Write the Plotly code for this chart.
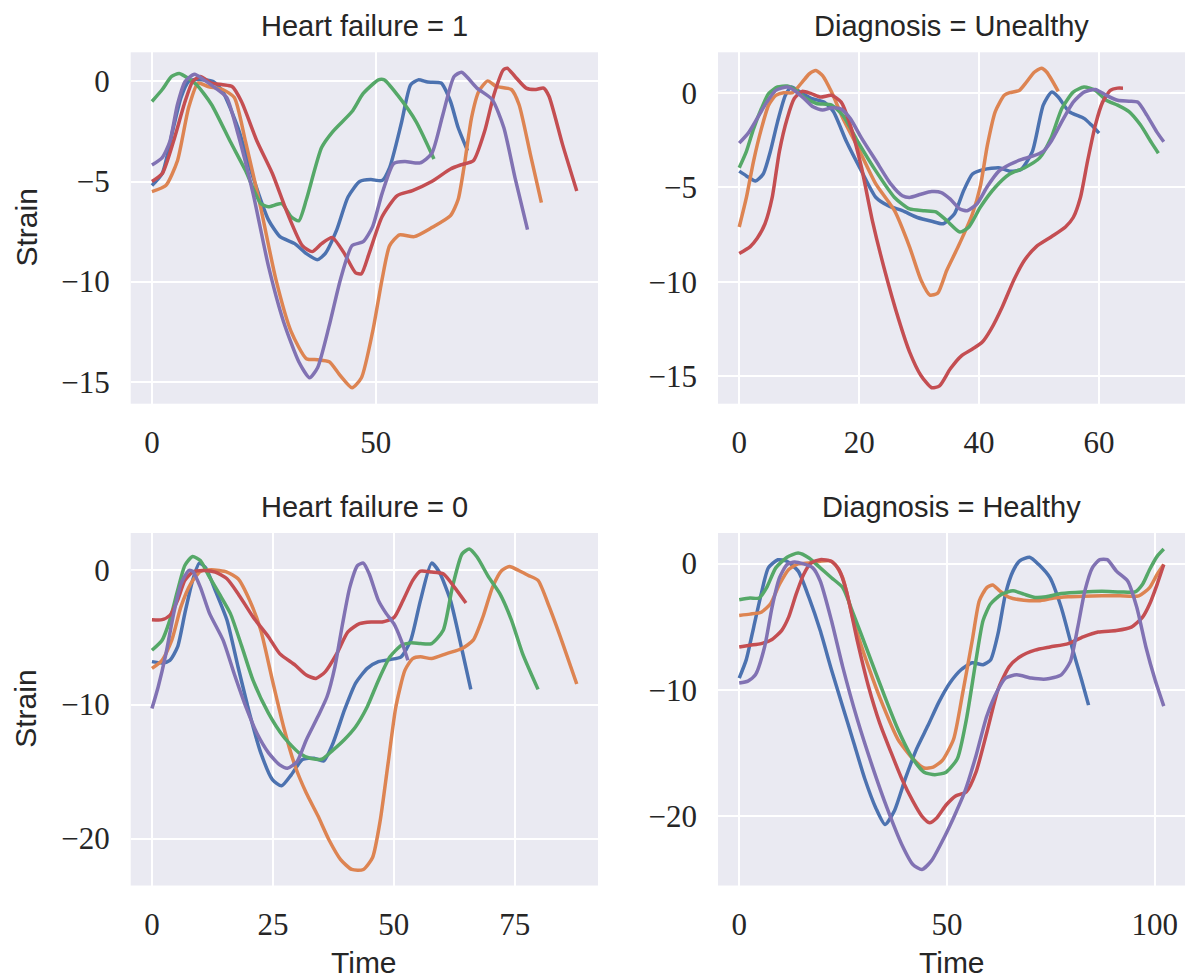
import plotly.graph_objects as go

# ---------------- data: Heart failure = 1 ----------------
hf1_t_blue = [0, 2.3, 4.8, 6.5, 8.2, 9.9, 13.7, 15.8, 19.2, 22.6, 26, 28.6, 31.9, 34.5, 37, 38.7, 41.3, 43.8, 46.4, 48.9, 51.4, 53.1, 55.7, 57.8, 59.5, 61.6, 64.6, 66.7, 68.4, 70.5]
hf1_s_blue = [-5.2, -4.6, -2.3, -0.8, 0, 0.1, 0, -0.5, -2.3, -4.8, -6.9, -7.75, -8.1, -8.6, -8.9, -8.6, -7.4, -5.77, -5.0, -4.9, -4.95, -4.3, -2.1, -0.16, 0.08, -0.03, -0.08, -1.0, -2.3, -3.46]
hf1_t_orange = [0, 3.1, 5.7, 8.2, 10.3, 12.5, 15.8, 18.4, 20.9, 24.3, 27.7, 31.1, 34.5, 37, 39.6, 42.1, 44.7, 46.8, 49.3, 51.4, 53.1, 55.3, 58.6, 62.5, 66.7, 68.4, 69.7, 71.4, 73, 75, 76.9, 80.3, 82, 84.5, 87]
hf1_s_orange = [-5.5, -5.2, -3.96, -1.3, -0.08, -0.25, -0.4, -0.8, -3.0, -6.3, -9.9, -12.5, -13.85, -13.9, -14.0, -14.7, -15.3, -14.8, -12.5, -9.9, -8.2, -7.66, -7.75, -7.3, -6.7, -5.9, -4.3, -1.8, -0.5, 0.03, -0.25, -0.4, -1.15, -3.6, -6.05]
hf1_t_green = [0, 2.3, 4.4, 6.1, 9.9, 13.3, 17.5, 20.9, 24.3, 26, 29, 31.1, 32.8, 34.5, 37.9, 40.4, 44.7, 47.2, 50.6, 51.9, 54.8, 59, 63]
hf1_s_green = [-1.0, -0.4, 0.25, 0.4, -0.15, -1.15, -3.0, -4.45, -6.1, -6.26, -6.1, -6.76, -6.96, -5.9, -3.3, -2.5, -1.5, -0.6, 0.08, 0.08, -0.66, -2.0, -3.87]
hf1_t_red = [0, 2.3, 4.8, 7.4, 9.1, 10.8, 13.3, 15.8, 17.9, 20, 23.5, 26.9, 30.3, 33.6, 35.8, 37.9, 40.3, 43, 45.5, 46.8, 48.5, 51.4, 54.8, 58.2, 62.5, 66.7, 69.2, 71.8, 74.3, 76.4, 78.5, 79.4, 81.1, 83.6, 85.8, 87.5, 88.7, 91.7, 94.9]
hf1_s_red = [-5.0, -4.6, -3.0, -1.0, 0, 0.25, -0.08, -0.16, -0.25, -1.0, -3.0, -4.6, -6.6, -8.2, -8.5, -8.1, -7.8, -8.6, -9.56, -9.6, -8.6, -6.76, -5.7, -5.45, -5.0, -4.37, -4.15, -3.96, -2.5, -0.66, 0.58, 0.66, 0.25, -0.33, -0.4, -0.33, -0.74, -3.13, -5.47]
hf1_t_purple = [0, 2.3, 4, 5.7, 7.4, 9.5, 11.6, 14.2, 16.7, 19.2, 22.6, 26, 29.4, 32.8, 35.2, 37, 39.6, 42.1, 44.7, 47.2, 49.3, 51.4, 54, 56.5, 59.9, 62.5, 65, 67.5, 69.2, 72.6, 76, 78.6, 81.1, 83.9]
hf1_s_purple = [-4.17, -3.8, -3.0, -1.15, 0, 0.36, 0.08, -0.33, -0.8, -2.6, -5.6, -9.2, -12.0, -14.0, -14.8, -14.3, -12.2, -9.9, -8.2, -8.0, -7.25, -5.6, -4.1, -4.0, -4.07, -3.6, -1.65, 0.25, 0.46, -0.33, -0.9, -2.3, -4.8, -7.4]

# ---------------- data: Diagnosis = Unealthy ----------------
du_t_blue = [0, 1.2, 2.7, 4, 5.2, 6.4, 7.7, 8.7, 10.2, 12, 14.2, 15.7, 17.9, 20.4, 22.8, 25, 27.2, 29.7, 32.1, 34, 35.9, 37.4, 38.9, 40.8, 43.3, 45.1, 47, 48.9, 50.7, 52.1, 53.2, 55, 57.5, 58.7, 60]
du_s_blue = [-4.15, -4.4, -4.67, -4.3, -3.1, -1.53, -0.14, 0.3, 0.03, -0.3, -0.5, -1.0, -2.6, -4.15, -5.54, -6.0, -6.24, -6.6, -6.8, -6.93, -6.4, -5.2, -4.3, -4.06, -3.97, -4.15, -4.06, -3.1, -0.66, 0.03, -0.23, -1.0, -1.36, -1.7, -2.14]
du_t_orange = [0, 1.2, 2.4, 3.7, 4.9, 6.1, 7.4, 8.9, 10.5, 11.7, 12.8, 13.9, 15.4, 17.3, 19.8, 22.8, 25.9, 28.4, 30.3, 31.8, 33.1, 34.6, 36.5, 38.9, 40.2, 41.4, 42.7, 44.2, 45.1, 46.7, 47.9, 49.2, 50.4, 51.3, 53.2]
du_s_orange = [-7.1, -5.54, -3.6, -1.9, -0.66, -0.14, 0, 0, 0.56, 1.0, 1.17, 0.9, 0.03, -1.36, -2.9, -4.84, -6.24, -8.15, -9.9, -10.7, -10.6, -9.4, -8.15, -6.4, -4.97, -2.75, -1.0, -0.14, 0, 0.12, 0.56, 1.08, 1.29, 1.08, 0.07]
du_t_green = [0, 1.2, 2.4, 3.7, 4.9, 6.4, 8, 9.5, 11.1, 12.9, 15.4, 17.3, 19.8, 22.8, 25.9, 28.4, 30.9, 32.8, 34.6, 36.8, 38.3, 40.2, 42.7, 45.1, 47.6, 50.1, 52, 53.8, 55.7, 57.5, 59.4, 61.2, 63.1, 65, 66.9, 68.8, 69.9]
du_s_green = [-3.97, -3.1, -1.9, -0.84, -0.05, 0.3, 0.35, 0.12, -0.3, -0.57, -0.66, -1.2, -2.6, -4.15, -5.54, -6.15, -6.24, -6.3, -6.76, -7.37, -7.1, -6.06, -5.0, -4.3, -3.97, -3.45, -2.4, -0.84, 0.03, 0.3, 0.12, -0.4, -0.66, -1.0, -1.7, -2.67, -3.2]
du_t_red = [0, 1.8, 3, 4.3, 5.5, 6.7, 8, 9.2, 10.5, 12, 13.6, 15.4, 17, 18.5, 20.4, 22.2, 24.1, 26.6, 28.4, 30.3, 32.1, 33.4, 35.2, 37.1, 38.9, 40.5, 42, 43.9, 45.8, 47.6, 49.5, 52, 54.4, 55.7, 56.9, 58.1, 59.4, 60.6, 61.9, 63.1, 64]
du_s_red = [-8.5, -8.15, -7.7, -6.93, -5.54, -3.1, -1.36, -0.3, 0.07, -0.05, -0.23, -0.14, -0.5, -1.7, -3.97, -6.76, -9.2, -12.0, -13.7, -14.95, -15.6, -15.5, -14.6, -13.9, -13.55, -13.2, -12.5, -11.3, -9.9, -8.85, -8.15, -7.63, -7.1, -6.6, -5.54, -3.6, -1.7, -0.5, 0.12, 0.24, 0.24]
du_t_purple = [0, 1.5, 3, 4.6, 6.1, 8, 9.2, 10.8, 12.3, 13.9, 15.4, 17, 18.5, 20.4, 22.8, 25.3, 27.2, 28.4, 30.3, 32.1, 33.7, 35.2, 36.8, 38, 39.6, 41.4, 43.3, 45.1, 47, 48.9, 50.7, 52, 53.8, 55.7, 57.5, 59.4, 61.2, 63.1, 65, 66.5, 68, 69.6, 70.8]
du_s_purple = [-2.67, -2.14, -1.36, -0.5, 0.12, 0.3, 0.12, -0.3, -0.75, -0.92, -0.8, -0.87, -1.36, -2.4, -3.6, -4.84, -5.45, -5.54, -5.37, -5.23, -5.28, -5.63, -6.15, -6.24, -5.9, -4.95, -4.15, -3.8, -3.54, -3.36, -3.1, -2.58, -1.53, -0.5, 0.03, 0.17, -0.14, -0.4, -0.45, -0.5, -1.2, -2.06, -2.6]

# ---------------- data: Heart failure = 0 ----------------
hf0_t_blue = [0, 2.1, 3.7, 5.3, 6.8, 8.4, 9.8, 11.1, 13.1, 15.5, 17.8, 20.2, 22.5, 24.9, 26.8, 28.8, 31.1, 33.5, 35.5, 37.4, 39.8, 42.1, 44.5, 46.8, 49.2, 51.5, 53.5, 55.5, 57.8, 59.4, 61.7, 64.1, 65.9]
hf0_s_blue = [-6.8, -6.9, -6.7, -5.7, -3.2, -0.74, 0.55, 0.2, -1.5, -3.7, -7.2, -10.7, -13.6, -15.6, -16.06, -15.24, -14.1, -14.0, -14.2, -12.9, -10.4, -8.4, -7.3, -6.8, -6.64, -6.44, -5.2, -2.23, 0.55, -0.12, -2.23, -5.95, -8.87]
hf0_t_orange = [0, 2.1, 4.1, 6, 8, 10, 12.3, 15.5, 17.8, 20.2, 22.5, 24.9, 27.2, 29.6, 31.9, 34.3, 36.6, 39, 41.3, 43.7, 45.6, 47.2, 48.8, 50.4, 52.3, 53.9, 55.5, 57.8, 60.9, 64.1, 66.4, 68.4, 70.4, 72.3, 73.9, 75.8, 77.8, 79.8, 82.1, 84.9, 87.8]
hf0_s_orange = [-7.3, -6.7, -5.2, -2.7, -1.0, -0.07, 0.05, -0.12, -0.62, -2.23, -4.46, -8.2, -11.65, -14.6, -16.6, -18.3, -20.1, -21.56, -22.3, -22.3, -21.4, -18.6, -14.4, -10.2, -7.43, -6.57, -6.44, -6.57, -6.2, -5.82, -5.2, -3.47, -1.24, 0, 0.3, 0, -0.37, -0.74, -2.7, -5.45, -8.47]
hf0_t_green = [0, 2.1, 3.7, 5.3, 6.8, 8.4, 10, 11.9, 13.9, 16.2, 18.6, 20.9, 24.1, 27.2, 30.4, 32.7, 35.1, 37.4, 39.8, 42.1, 44.5, 46.8, 49.2, 51.5, 53.5, 55.5, 57.8, 60.2, 62.1, 64.1, 65.6, 67.2, 69.6, 71.9, 74.3, 76.6, 79.8]
hf0_s_green = [-5.95, -5.2, -3.7, -1.5, 0.37, 1.04, 0.74, -0.5, -1.73, -3.2, -5.7, -8.2, -10.66, -12.4, -13.6, -14.0, -14.08, -13.4, -12.6, -11.65, -10.16, -8.2, -6.44, -5.6, -5.4, -5.45, -5.45, -4.46, -1.24, 1.24, 1.6, 1.0, -0.5, -1.73, -3.7, -6.2, -8.87]
hf0_t_red = [0, 2.1, 3.7, 5.3, 6.8, 8.4, 10.7, 13.1, 15.5, 17.8, 20.9, 24.1, 26.4, 29.6, 31.9, 33.9, 35.8, 38.2, 40.5, 42.9, 45.3, 47.6, 50, 51.9, 53.9, 55.5, 57.8, 60.2, 62.5, 64.9]
hf0_s_red = [-3.67, -3.67, -3.35, -2.23, -0.74, -0.12, 0, -0.12, -0.62, -1.73, -3.47, -4.96, -6.2, -7.06, -7.8, -8.05, -7.56, -6.2, -4.58, -3.97, -3.84, -3.84, -3.52, -2.23, -0.74, -0.05, -0.12, -0.25, -1.24, -2.43]
hf0_t_purple = [0, 1.3, 2.9, 4.5, 6, 7.6, 8.4, 10, 11.9, 14.7, 17, 19.4, 21.7, 24.1, 26.4, 28, 30, 31.9, 34.3, 36.2, 37.8, 39.4, 40.9, 42.5, 43.7, 44.9, 46.8, 48.4, 50, 51.5, 52.9]
hf0_s_purple = [-10.3, -8.67, -6.2, -3.2, -1.0, 0, -0.05, -1.24, -3.2, -5.2, -7.7, -10.16, -12.14, -13.6, -14.5, -14.75, -14.25, -12.64, -10.9, -9.4, -7.2, -3.97, -1.24, 0.37, 0.55, -0.25, -2.23, -3.2, -3.97, -5.2, -6.7]

# ---------------- data: Diagnosis = Healthy ----------------
dh_t_blue = [0, 1.7, 3.5, 5.3, 7, 9.3, 11.5, 14.2, 16.8, 19.5, 22.2, 24.9, 27.5, 30.2, 32.9, 35.1, 37.3, 40, 42.7, 45.4, 48, 50.7, 53.4, 56.1, 58.7, 60.5, 62.3, 64.1, 65.9, 67.6, 69.9, 72.1, 74.8, 77.5, 80.1, 82.4, 84.1]
dh_s_blue = [-9.06, -7.6, -5.0, -2.4, -0.34, 0.3, 0.18, -0.6, -2.7, -5.3, -8.4, -11.3, -14.1, -17.0, -19.35, -20.65, -19.6, -17.0, -14.66, -12.84, -11.0, -9.45, -8.4, -7.84, -8.0, -7.63, -5.55, -2.4, -0.6, 0.23, 0.5, -0.08, -1.12, -3.46, -6.6, -9.2, -11.2]
dh_t_orange = [0, 2.6, 5.3, 7.5, 9.7, 11.9, 14.2, 16.8, 19.5, 21.7, 23.1, 24.9, 27.5, 31.1, 34.7, 38.2, 41.8, 44.5, 46.7, 48.9, 51.6, 53.8, 56.1, 57.8, 59.6, 61, 62.7, 65, 68.5, 72.1, 75.7, 79.2, 82.8, 87.3, 91.7, 96.2, 98.8, 100.6, 102.2]
dh_s_orange = [-4.1, -4.0, -3.85, -3.2, -1.64, -0.47, -0.03, 0.05, 0.18, 0.23, -0.08, -1.12, -4.5, -8.15, -11.3, -13.9, -15.44, -16.17, -16.1, -15.57, -13.9, -10.23, -6.07, -2.94, -1.9, -1.7, -2.16, -2.68, -2.9, -2.94, -2.73, -2.63, -2.58, -2.55, -2.55, -2.55, -1.9, -0.86, -0.08]
dh_t_green = [0, 2.6, 4.8, 6.6, 8.8, 11.5, 14.2, 16.8, 19.5, 22.2, 24.9, 27.5, 31.1, 34.7, 38.2, 41.8, 44.5, 47.1, 49.8, 52.5, 54.7, 57, 58.7, 60.5, 63.2, 65.9, 68.5, 71.2, 73.9, 77.5, 82.8, 87.3, 91.7, 95.3, 97.1, 98.8, 100.6, 102.2]
dh_s_green = [-2.86, -2.73, -2.73, -1.9, -0.34, 0.5, 0.83, 0.44, -0.34, -1.12, -1.9, -4.0, -7.1, -10.23, -13.1, -15.44, -16.5, -16.7, -16.5, -15.44, -12.3, -7.63, -4.5, -3.2, -2.42, -2.16, -2.42, -2.68, -2.63, -2.37, -2.24, -2.2, -2.24, -2.24, -1.64, -0.47, 0.57, 1.15]
dh_t_red = [0, 2.6, 5.3, 7.9, 10.2, 11.9, 13.7, 15.5, 17.3, 19.5, 22.2, 24, 25.8, 28.4, 31.1, 33.8, 36.5, 39.1, 41.8, 44, 45.8, 47.6, 49.8, 52, 54.7, 57, 59.6, 62.3, 65, 67.6, 71.2, 74.8, 79.2, 82.8, 86.4, 90.8, 94.4, 97.1, 98.8, 100.6, 102.2]
dh_s_red = [-6.6, -6.46, -6.33, -6.0, -5.3, -4.24, -2.42, -0.86, 0.05, 0.31, 0.18, -0.47, -2.16, -6.07, -9.7, -12.6, -14.9, -17.0, -18.8, -20.0, -20.5, -20.1, -19.1, -18.4, -18.05, -16.5, -13.36, -9.97, -8.15, -7.37, -6.85, -6.6, -6.33, -5.8, -5.42, -5.3, -5.03, -4.24, -3.2, -1.64, -0.08]
dh_t_purple = [0, 2.1, 3.9, 6.1, 7.9, 9.7, 11.5, 13.3, 15.5, 17.7, 19.5, 22.2, 24.9, 28.4, 32, 35.6, 39.1, 41.8, 44, 46.3, 48.9, 51.6, 54.3, 57, 59.6, 62.3, 64.1, 66.8, 70.3, 73.9, 77.5, 79.7, 81.5, 83.2, 85, 86.8, 88.6, 90.8, 93.5, 95.7, 97.9, 100.1, 102.2]
dh_s_purple = [-9.45, -9.3, -8.8, -6.6, -3.46, -1.12, -0.08, 0.13, -0.03, -0.34, -1.38, -4.5, -8.15, -12.3, -16.0, -19.35, -22.2, -23.8, -24.2, -23.5, -21.95, -20.1, -18.05, -15.2, -12.06, -9.97, -9.06, -8.8, -9.06, -9.14, -8.8, -7.76, -5.03, -2.16, -0.34, 0.31, 0.31, -0.6, -1.38, -3.46, -6.6, -9.2, -11.28]

panel_titles = ["Heart failure = 1", "Diagnosis = Unealthy", "Heart failure = 0", "Diagnosis = Healthy"]
x_dticks = [50, 20, 25, 50]
y_dticks = [5, 5, 10, 10]
x_label = "Time"
y_label = "Strain"

# seaborn "deep" palette
colors = ["#4C72B0", "#DD8452", "#55A868", "#C44E52", "#8172B3"]

panels = [
    [(hf1_t_blue, hf1_s_blue), (hf1_t_orange, hf1_s_orange), (hf1_t_green, hf1_s_green), (hf1_t_red, hf1_s_red), (hf1_t_purple, hf1_s_purple)],
    [(du_t_blue, du_s_blue), (du_t_orange, du_s_orange), (du_t_green, du_s_green), (du_t_red, du_s_red), (du_t_purple, du_s_purple)],
    [(hf0_t_blue, hf0_s_blue), (hf0_t_orange, hf0_s_orange), (hf0_t_green, hf0_s_green), (hf0_t_red, hf0_s_red), (hf0_t_purple, hf0_s_purple)],
    [(dh_t_blue, dh_s_blue), (dh_t_orange, dh_s_orange), (dh_t_green, dh_s_green), (dh_t_red, dh_s_red), (dh_t_purple, dh_s_purple)],
]

W, H = 1185, 978
# panel pixel boxes (left, right, top, bottom)
boxes = [(130.7, 598, 52.3, 403.7), (718, 1185, 52.3, 403.7),
         (130.7, 598, 533, 885.5), (718, 1185, 533, 885.5)]

fig = go.Figure()
text_color = "#262626"
tick_font = dict(family="Liberation Serif", size=31, color=text_color)
sans = "Liberation Sans"

annotations = []
for i, series in enumerate(panels):
    ax = "" if i == 0 else str(i + 1)
    for (t, s), c in zip(series, colors):
        fig.add_trace(go.Scatter(x=t, y=s, mode="lines", xaxis="x" + ax, yaxis="y" + ax,
                                 line=dict(color=c, width=3.5, shape="spline", smoothing=0.6),
                                 showlegend=False, hoverinfo="skip"))
    all_t = [v for t, _ in series for v in t]
    all_s = [v for _, s in series for v in s]
    tmin, tmax = min(all_t), max(all_t)
    smin, smax = min(all_s), max(all_s)
    tm, sm = 0.05 * (tmax - tmin), 0.05 * (smax - smin)
    l, r, top, bot = boxes[i]
    xd = [l / W, min(r / W, 1.0)]
    yd = [1 - bot / H, 1 - top / H]
    common = dict(showgrid=True, gridcolor="white", gridwidth=2.4, zeroline=False,
                  showline=False, ticks="", tickfont=tick_font)
    fig.layout["xaxis" + ax] = dict(domain=xd, range=[tmin - tm, tmax + tm], dtick=x_dticks[i],
                                    tick0=0, anchor="y" + ax, ticklabelstandoff=17, **common)
    fig.layout["yaxis" + ax] = dict(domain=yd, range=[smin - sm, smax + sm], dtick=y_dticks[i],
                                    tick0=0, anchor="x" + ax, ticklabelstandoff=20, **common)
    annotations.append(dict(text=panel_titles[i], x=((l + r) / 2) / W,
                            y=1 - (top - 26) / H, xref="paper", yref="paper",
                            xanchor="center", yanchor="middle", showarrow=False,
                            font=dict(family=sans, size=29, color=text_color)))
    if i % 2 == 0:
        annotations.append(dict(text=y_label, x=25.5 / W, y=1 - ((top + bot) / 2) / H,
                                xref="paper", yref="paper", xanchor="center", yanchor="middle",
                                textangle=-90, showarrow=False,
                                font=dict(family=sans, size=30, color=text_color)))
    if i >= 2:
        annotations.append(dict(text=x_label, x=((l + r) / 2) / W, y=1 - 962 / H,
                                xref="paper", yref="paper", xanchor="center", yanchor="middle",
                                showarrow=False, font=dict(family=sans, size=30, color=text_color)))

fig.update_layout(width=W, height=H, margin=dict(l=0, r=0, t=0, b=0),
                  paper_bgcolor="white", plot_bgcolor="#EAEAF2",
                  annotations=annotations, showlegend=False)

fig.write_html("out.html", config={"displayModeBar": False},
               post_script="document.body.style.margin='0';document.body.style.padding='0';"
                           "document.documentElement.style.overflow='hidden';")
